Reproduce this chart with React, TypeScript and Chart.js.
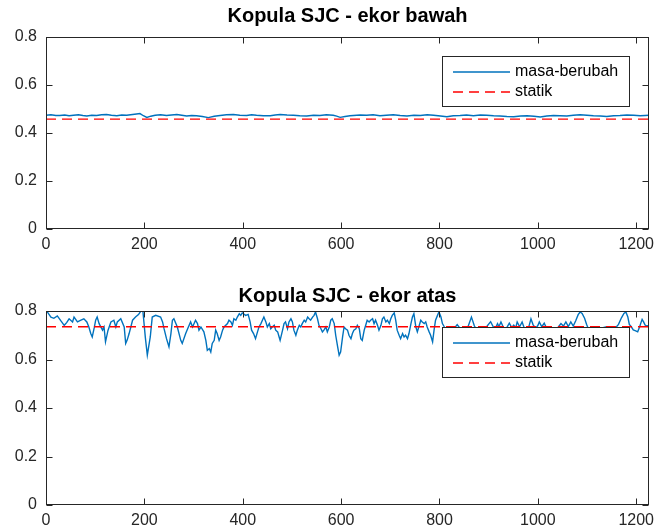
import React, { useEffect, useRef } from 'react';
import { Chart, registerables } from 'chart.js';

Chart.register(...registerables);

const xTicks = [0, 200, 400, 600, 800, 1000, 1200];
const yTicks = [0, 0.2, 0.4, 0.6, 0.8];
const yTickLabels = ['0', '0.2', '0.4', '0.6', '0.8'];
const xMax = 1226;
const legendLabels = ['masa-berubah', 'statik'];

// Kopula SJC - ekor bawah (lower tail)
const bawahT = [0, 10, 20, 28, 38, 47, 56, 66, 75, 83, 93, 103, 113, 123, 133, 144, 154, 164, 176, 184, 191, 198, 205, 213, 222, 233, 245, 255, 266, 276, 286, 296, 306, 318, 330, 342, 354, 367, 381, 394, 408, 418, 428, 442, 456, 466, 476, 490, 503, 516, 530, 544, 557, 570, 584, 591, 598, 608, 618, 625, 639, 652, 665, 679, 692, 706, 720, 734, 748, 761, 775, 788, 802, 815, 828, 842, 855, 869, 883, 896, 910, 923, 937, 951, 965, 978, 992, 1005, 1018, 1032, 1045, 1059, 1072, 1086, 1100, 1113, 1127, 1140, 1154, 1167, 1181, 1195, 1208, 1218, 1226];
const bawahV = [0.474, 0.476, 0.473, 0.473, 0.475, 0.472, 0.474, 0.476, 0.473, 0.471, 0.474, 0.473, 0.476, 0.477, 0.474, 0.472, 0.475, 0.474, 0.477, 0.479, 0.481, 0.472, 0.465, 0.47, 0.474, 0.476, 0.473, 0.475, 0.477, 0.474, 0.471, 0.473, 0.472, 0.469, 0.464, 0.47, 0.473, 0.476, 0.477, 0.474, 0.473, 0.476, 0.474, 0.472, 0.472, 0.475, 0.477, 0.475, 0.474, 0.472, 0.471, 0.474, 0.473, 0.476, 0.474, 0.47, 0.465, 0.469, 0.472, 0.473, 0.475, 0.474, 0.476, 0.472, 0.474, 0.476, 0.473, 0.471, 0.474, 0.473, 0.476, 0.474, 0.471, 0.468, 0.472, 0.473, 0.475, 0.472, 0.475, 0.474, 0.472, 0.471, 0.469, 0.468, 0.471, 0.472, 0.47, 0.467, 0.471, 0.473, 0.472, 0.471, 0.474, 0.476, 0.474, 0.472, 0.471, 0.469, 0.472, 0.473, 0.475, 0.474, 0.472, 0.473, 0.474];
const bawahStatik = 0.458;

// Kopula SJC - ekor atas (upper tail)
const atasT = [0, 3, 10, 16, 23, 30, 37, 42, 47, 54, 57, 64, 71, 77, 83, 87, 91, 94, 98, 101, 104, 108, 115, 118, 121, 126, 132, 138, 142, 145, 152, 159, 162, 165, 169, 176, 182, 188, 193, 197, 202, 206, 212, 216, 223, 233, 237, 240, 245, 250, 254, 257, 260, 267, 274, 277, 284, 288, 294, 298, 304, 308, 311, 315, 321, 325, 328, 332, 335, 338, 342, 345, 348, 352, 355, 359, 362, 369, 372, 376, 379, 382, 386, 389, 393, 396, 399, 406, 411, 415, 418, 422, 426, 430, 433, 437, 440, 443, 447, 450, 454, 457, 460, 464, 467, 471, 474, 476, 481, 484, 487, 491, 494, 498, 501, 504, 508, 511, 515, 518, 521, 525, 528, 532, 535, 538, 542, 545, 548, 552, 555, 559, 562, 565, 569, 572, 576, 579, 582, 586, 589, 593, 596, 599, 603, 606, 609, 613, 616, 620, 623, 626, 630, 633, 637, 640, 643, 647, 650, 653, 657, 660, 664, 667, 670, 674, 677, 681, 684, 687, 691, 694, 698, 701, 704, 708, 711, 714, 718, 721, 725, 728, 731, 735, 738, 742, 745, 748, 752, 755, 759, 762, 765, 769, 772, 775, 779, 782, 786, 789, 792, 796, 799, 803, 806, 810, 816, 824, 830, 836, 842, 850, 858, 865, 871, 880, 890, 897, 904, 909, 914, 918, 921, 925, 930, 936, 942, 947, 951, 955, 958, 963, 968, 972, 978, 983, 986, 990, 995, 1000, 1003, 1008, 1013, 1018, 1026, 1035, 1042, 1047, 1052, 1057, 1062, 1067, 1072, 1077, 1082, 1086, 1090, 1095, 1099, 1103, 1112, 1122, 1131, 1138, 1146, 1154, 1160, 1164, 1170, 1175, 1179, 1183, 1186, 1190, 1194, 1199, 1203, 1207, 1209, 1212, 1215, 1218, 1222, 1226];
const atasV = [0.795, 0.795, 0.775, 0.77, 0.78, 0.76, 0.741, 0.752, 0.768, 0.755, 0.775, 0.755, 0.762, 0.768, 0.755, 0.735, 0.707, 0.693, 0.73, 0.762, 0.775, 0.748, 0.721, 0.734, 0.673, 0.72, 0.755, 0.762, 0.734, 0.755, 0.768, 0.734, 0.666, 0.68, 0.707, 0.762, 0.775, 0.785, 0.8, 0.8, 0.69, 0.618, 0.693, 0.775, 0.782, 0.775, 0.755, 0.727, 0.686, 0.652, 0.707, 0.762, 0.768, 0.734, 0.679, 0.666, 0.707, 0.727, 0.755, 0.734, 0.762, 0.748, 0.721, 0.734, 0.714, 0.679, 0.638, 0.645, 0.631, 0.666, 0.679, 0.721, 0.707, 0.679, 0.693, 0.721, 0.734, 0.748, 0.762, 0.755, 0.741, 0.768, 0.762, 0.775, 0.789, 0.782, 0.792, 0.782, 0.786, 0.755, 0.721, 0.707, 0.686, 0.714, 0.734, 0.748, 0.762, 0.775, 0.755, 0.734, 0.748, 0.727, 0.734, 0.741, 0.721, 0.714, 0.693, 0.679, 0.721, 0.748, 0.755, 0.727, 0.755, 0.768, 0.755, 0.721, 0.7, 0.721, 0.741, 0.734, 0.748, 0.762, 0.755, 0.775, 0.768, 0.762, 0.775, 0.782, 0.796, 0.768, 0.741, 0.727, 0.714, 0.721, 0.734, 0.714, 0.734, 0.762, 0.768, 0.748, 0.7, 0.652, 0.618, 0.631, 0.693, 0.734, 0.727, 0.721, 0.7, 0.686, 0.707, 0.721, 0.727, 0.741, 0.727, 0.686, 0.679, 0.721, 0.741, 0.762, 0.755, 0.762, 0.768, 0.748, 0.762, 0.741, 0.721, 0.741, 0.768, 0.775, 0.755, 0.762, 0.748, 0.768, 0.782, 0.792, 0.762, 0.721, 0.7, 0.686, 0.707, 0.693, 0.7, 0.686, 0.707, 0.748, 0.775, 0.789, 0.734, 0.714, 0.741, 0.762, 0.755, 0.748, 0.755, 0.734, 0.714, 0.7, 0.673, 0.721, 0.762, 0.782, 0.796, 0.775, 0.748, 0.734, 0.715, 0.705, 0.728, 0.744, 0.728, 0.71, 0.735, 0.775, 0.738, 0.712, 0.725, 0.738, 0.756, 0.736, 0.73, 0.748, 0.736, 0.755, 0.732, 0.728, 0.75, 0.732, 0.742, 0.73, 0.755, 0.735, 0.755, 0.732, 0.712, 0.745, 0.768, 0.745, 0.728, 0.74, 0.755, 0.735, 0.75, 0.728, 0.705, 0.718, 0.735, 0.748, 0.738, 0.755, 0.736, 0.755, 0.738, 0.76, 0.785, 0.796, 0.79, 0.77, 0.745, 0.725, 0.705, 0.718, 0.73, 0.734, 0.733, 0.728, 0.735, 0.745, 0.772, 0.79, 0.796, 0.775, 0.745, 0.735, 0.722, 0.718, 0.714, 0.735, 0.748, 0.765, 0.755, 0.742, 0.738, 0.74];
const atasStatik = 0.735;

const BLUE = '#0072BD';
const RED = '#FF0000';
const AXIS = '#262626';
const FONT = '"Liberation Sans", Arial, Helvetica, sans-serif';
const DASH = [10, 6];

const matlabPlugin = {
  id: 'matlabDeco',
  afterDatasetsDraw(chart: any, _args: any, opts: any) {
    const { ctx, chartArea: a, scales } = chart;
    const xs = scales.x;
    const ys = scales.y;
    ctx.save();
    ctx.strokeStyle = AXIS;
    ctx.lineWidth = 1;
    ctx.setLineDash([]);
    ctx.beginPath();
    const L = Math.round(a.left) + 0.5;
    const R = Math.round(a.right) - 0.5;
    const T = Math.round(a.top) + 0.5;
    const B = Math.round(a.bottom) - 0.5;
    for (const t of xTicks) {
      const px = Math.round(xs.getPixelForValue(t)) + 0.5;
      ctx.moveTo(px, B);
      ctx.lineTo(px, B - 6);
      ctx.moveTo(px, T);
      ctx.lineTo(px, T + 6);
    }
    for (const t of yTicks) {
      const py = Math.round(ys.getPixelForValue(t)) + 0.5;
      ctx.moveTo(L, py);
      ctx.lineTo(L + 6, py);
      ctx.moveTo(R, py);
      ctx.lineTo(R - 6, py);
    }
    ctx.stroke();
    ctx.strokeRect(L, T, R - L, B - T);

    // legend
    const lx = Math.round(a.right) - 207;
    const ly = Math.round(a.top) + opts.legendTop;
    const lw = 187;
    const lh = 50;
    ctx.fillStyle = '#ffffff';
    ctx.fillRect(lx, ly, lw, lh);
    ctx.strokeStyle = AXIS;
    ctx.strokeRect(lx + 0.5, ly + 0.5, lw, lh);
    const rows = [ly + 16, ly + 36];
    ctx.lineWidth = 1.4;
    ctx.strokeStyle = BLUE;
    ctx.beginPath();
    ctx.moveTo(lx + 11, rows[0]);
    ctx.lineTo(lx + 68, rows[0]);
    ctx.stroke();
    ctx.strokeStyle = RED;
    ctx.setLineDash(DASH);
    ctx.beginPath();
    ctx.moveTo(lx + 11, rows[1]);
    ctx.lineTo(lx + 68, rows[1]);
    ctx.stroke();
    ctx.setLineDash([]);
    ctx.fillStyle = '#000000';
    ctx.font = '16px ' + FONT;
    ctx.textAlign = 'left';
    ctx.textBaseline = 'middle';
    ctx.fillText(legendLabels[0], lx + 73, rows[0]);
    ctx.fillText(legendLabels[1], lx + 73, rows[1]);

    // title
    ctx.font = 'bold 20px ' + FONT;
    ctx.textAlign = 'center';
    ctx.textBaseline = 'middle';
    ctx.fillText(opts.title, (a.left + a.right) / 2, opts.titleY);
    ctx.restore();
  },
};

function makeConfig(ts: number[], vs: number[], statik: number, title: string, padTop: number, xHeight: number, legendTop: number, titleY: number): any {
  return {
    type: 'line',
    data: {
      datasets: [
        {
          label: legendLabels[0],
          data: ts.map((x, i) => ({ x, y: vs[i] })),
          borderColor: BLUE,
          borderWidth: 1.4,
          pointRadius: 0,
          tension: 0,
          fill: false,
          order: 1,
        },
        {
          label: legendLabels[1],
          data: [{ x: 0, y: statik }, { x: xMax, y: statik }],
          borderColor: RED,
          borderWidth: 1.4,
          borderDash: DASH,
          pointRadius: 0,
          fill: false,
          order: 0,
        },
      ],
    },
    options: {
      animation: false,
      responsive: false,
      events: [],
      layout: { padding: { top: padTop, right: 5, left: 0, bottom: 0 } },
      plugins: {
        legend: { display: false },
        title: { display: false },
        tooltip: { enabled: false },
        matlabDeco: { title, legendTop, titleY },
      },
      scales: {
        x: {
          type: 'linear',
          min: 0,
          max: xMax,
          grid: { display: false, drawTicks: false },
          border: { display: false },
          afterBuildTicks: (s: any) => {
            s.ticks = xTicks.map((v) => ({ value: v }));
          },
          ticks: {
            autoSkip: false,
            maxRotation: 0,
            minRotation: 0,
            padding: 6,
            color: AXIS,
            font: { size: 16, family: FONT },
            callback: (v: any) => String(v),
          },
          afterFit: (s: any) => {
            s.height = xHeight;
            s.paddingLeft = 0;
            s.paddingRight = 0;
          },
        },
        y: {
          type: 'linear',
          min: 0,
          max: 0.8,
          grid: { display: false, drawTicks: false },
          border: { display: false },
          afterBuildTicks: (s: any) => {
            s.ticks = yTicks.map((v) => ({ value: v }));
          },
          ticks: {
            padding: 9,
            color: AXIS,
            font: { size: 16, family: FONT },
            callback: (_v: any, i: number) => yTickLabels[i],
          },
          afterFit: (s: any) => {
            s.width = 46;
            s.paddingTop = 0;
            s.paddingBottom = 0;
          },
        },
      },
    },
    plugins: [matlabPlugin],
  };
}

export default function App() {
  const ref1 = useRef<HTMLCanvasElement>(null);
  const ref2 = useRef<HTMLCanvasElement>(null);
  useEffect(() => {
    const c1 = new Chart(ref1.current as HTMLCanvasElement, makeConfig(bawahT, bawahV, bawahStatik, 'Kopula SJC - ekor bawah', 37, 39, 19, 16));
    const c2 = new Chart(ref2.current as HTMLCanvasElement, makeConfig(atasT, atasV, atasStatik, 'Kopula SJC - ekor atas', 43, 26, 16, 28));
    return () => {
      c1.destroy();
      c2.destroy();
    };
  }, []);
  return (
    <div style={{ position: 'fixed', left: 0, top: 0, width: 654, height: 531, background: '#fff' }}>
      <canvas ref={ref1} width={654} height={268} style={{ position: 'absolute', left: 0, top: 0, width: 654, height: 268 }} />
      <canvas ref={ref2} width={654} height={263} style={{ position: 'absolute', left: 0, top: 268, width: 654, height: 263 }} />
    </div>
  );
}
